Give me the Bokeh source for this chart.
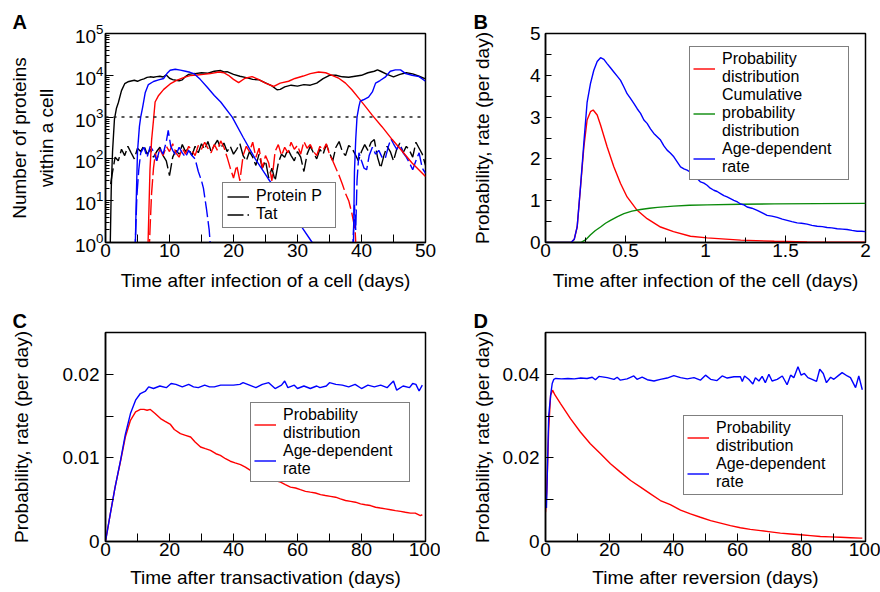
from bokeh.plotting import figure
from bokeh.models import (Range1d, FixedTicker, CustomJSTickFormatter, Span,
                          Legend, LegendItem, Title)
from bokeh.layouts import column, row
from bokeh.embed import file_html
from bokeh.resources import INLINE

FONT = "Liberation Sans"
RED = "#ff0000"
BLUE = "#0000ff"
GREEN = "#0a8a0a"
BLACK = "#000000"
DASH = "16 4"

# ---------------- Panel A data ----------------
a_xticks = [0, 10, 20, 30, 40, 50]
a_xminor = [5, 15, 25, 35, 45]
a_yticks = [1, 10, 100, 1000, 10000, 100000]
a_yminor = [m * d for d in (1, 10, 100, 1000, 10000) for m in range(2, 10)]
a_threshold = 1000

# Protein P, black cell
bp_t = [0.75, 0.9, 1.1, 1.4, 1.7, 2.0, 2.5, 3.0, 3.5, 4.0, 4.5, 5.0, 5.5, 6.0, 6.5,
        7.0, 7.5, 8.0, 8.5, 9.0, 9.5, 10.0, 10.5, 11.0, 11.5, 12.0, 12.5, 13.0, 13.5, 14.0,
        15, 16, 17, 18, 18.5, 19, 20, 21, 22, 23, 24, 25, 26, 26.8, 27.3,
        28, 29, 30, 31, 32, 33, 34, 35, 36, 37, 38, 39, 40, 41, 42,
        42.5, 43, 44, 45, 46, 47, 48, 49, 50]
bp_v = [1, 20, 150, 900, 1600, 2200, 4300, 6300, 7000, 7300, 7600, 7200, 7800, 8200, 8900,
        9200, 9000, 9300, 9500, 9100, 10200, 8500, 7900, 7600, 7400, 7800, 9300, 10500, 10800, 11000,
        11500, 11200, 12500, 13000, 12000, 12200, 10500, 9500, 8800, 8000, 7800, 6600, 5600, 4500, 4600,
        5300, 5800, 5500, 6000, 5800, 6500, 8300, 10000, 10000, 9200, 9000, 9500, 10000, 11500, 12500,
        13500, 12500, 10500, 9200, 10500, 11500, 10800, 9500, 8200]

# Protein P, red cell
rp_t = [6.6, 6.95, 7.2, 7.5, 7.75, 8.3, 9.1, 10.1, 11.1, 12.2, 13.2, 14.3, 15.3, 16.4, 17.7,
        18.5, 19.2, 20.0, 20.8, 21.8, 22.9, 23.9, 25.0, 26.3, 27.3, 28.6, 29.6, 30.9, 32.0, 33.3,
        34.4, 35.4, 36.5, 37.5, 38.5, 39.6, 40.6, 41.7, 43.2, 44.8, 46.4, 47.9, 50.0]
rp_v = [0.5, 55, 280, 850, 2300, 3300, 4600, 6200, 7600, 8800, 9800, 10200, 10500, 11000, 12000,
        11500, 10000, 8000, 6700, 8500, 9300, 8000, 6500, 5400, 6500, 7200, 8400, 9600, 11000, 12000,
        11500, 10000, 8400, 6500, 4500, 2800, 1800, 1100, 590, 290, 150, 80, 38]

# Protein P, blue cell (first and second episode)
bp1_t = [4.6, 4.8, 5.0, 5.3, 5.5, 5.8, 6.2, 6.7, 7.5, 8.3, 9.1, 9.6, 10.1, 10.9, 11.7,
         12.5, 13.2, 13.8, 14.8, 15.9, 17.0, 18.0, 19.8, 21.5, 23.4, 25.4, 27.3, 29.0, 30.7, 32.3, 32.6]
bp1_v = [0.3, 10, 150, 600, 1000, 1700, 3800, 6000, 7100, 7800, 8400, 11000, 13200, 14000, 13300,
         12500, 11800, 11000, 8000, 5200, 3300, 2300, 1000, 330, 100, 34, 13, 5.5, 2.3, 1, 0.3]
bp2_t = [38.7, 38.9, 39.1, 39.3, 39.6, 39.8, 40.3, 41.1, 41.7, 42.2, 42.9, 43.7, 44.5, 45.3,
         46.1, 46.9, 47.9, 49.0, 50.0]
bp2_v = [0.3, 50, 300, 1000, 1800, 2400, 2600, 3000, 4000, 6500, 7500, 9000, 12500, 13500,
         13500, 11000, 10000, 9300, 7200]

# Tat, black cell
kt_t = [0.8] + [1.0 + 0.5 * i for i in range(99)]
kt_v = [25,
        40, 110, 90, 170, 120, 200, 140, 100, 180, 150,
        210, 130, 170, 110, 150, 190, 120, 90, 40, 110,
        160, 130, 220, 150, 180, 120, 200, 140, 230, 170,
        260, 150, 210, 280, 180, 240, 150, 200, 130, 170,
        230, 120, 90, 150, 110, 70, 130, 60, 90, 35,
        60, 30, 80, 130, 110, 170, 120, 90, 150, 110,
        50, 130, 200, 140, 100, 170, 130, 220, 140, 90,
        190, 260, 150, 120, 210, 180, 130, 90, 150, 220,
        160, 250, 290, 110, 60, 120, 200, 150, 90, 170,
        240, 140, 200, 160, 110, 250, 180, 130, 70]

# Tat, red cell
rt_t = [6.8, 7.0, 7.2, 7.5, 7.8] + [8.0 + 0.5 * i for i in range(63)] + [39.2]
rt_v = [0.5, 3, 15, 60, 140,
        90, 170, 120, 200, 150, 230, 140, 110, 180, 130,
        200, 160, 120, 210, 170, 250, 180, 140, 220, 160,
        270, 190, 110, 60, 35, 70, 30, 120, 200, 150,
        250, 110, 180, 60, 120, 80, 30, 150, 220, 120,
        190, 140, 250, 170, 210, 130, 260, 180, 220, 150,
        120, 200, 160, 230, 130, 90, 60, 40, 25, 15,
        10, 5, 2,
        0.5]

# Tat, blue cell
bt1_t = [4.6, 4.9, 5.2, 5.5, 6.0, 6.5, 7.0, 7.5, 8.0, 8.5, 9.0, 9.5, 9.8, 10.2, 10.5,
         11.0, 11.5, 12.0, 12.5, 13.0, 13.5, 14.0, 14.5, 15.0, 15.3, 15.8, 16.2, 16.5]
bt1_v = [0.5, 13, 55, 140, 190, 110, 200, 150, 90, 180, 130, 260, 480, 200, 160,
         120, 190, 140, 110, 160, 120, 100, 50, 30, 20, 6, 2, 0.5]
bt2_t = [38.6, 38.9, 39.1, 39.3, 39.6, 40.0, 40.4, 40.8, 41.2, 41.7, 42.2, 42.7, 43.2, 43.7,
         44.2, 44.6, 45.0, 45.5, 46.0, 46.5, 47.0, 47.5, 48.0, 48.5, 49.0, 49.5, 50.0]
bt2_v = [0.5, 8, 2, 30, 140, 90, 60, 55, 120, 190, 130, 160, 110, 100,
         200, 300, 230, 170, 220, 140, 110, 80, 55, 90, 140, 60, 45]

# ---------------- Panel B data ----------------
b_xticks = [0, 0.5, 1, 1.5, 2]
b_xminor = [0.25, 0.75, 1.25, 1.75]
b_yticks = [0, 1, 2, 3, 4, 5]
b_yminor = [0.5, 1.5, 2.5, 3.5, 4.5]

b_red_t = [0, 0.16, 0.18, 0.198, 0.219, 0.24, 0.26, 0.281, 0.298, 0.323, 0.344, 0.385, 0.427,
           0.469, 0.51, 0.573, 0.635, 0.719, 0.8, 0.906, 1.01, 1.22, 1.43, 1.635, 2.0]
b_red_v = [0, 0, 0.08, 0.37, 1.33, 2.29, 2.93, 3.13, 3.17, 3.05, 2.81, 2.29, 1.81,
           1.41, 1.09, 0.77, 0.57, 0.37, 0.26, 0.15, 0.11, 0.056, 0.03, 0.016, 0.01]

b_green_t = [0, 0.22, 0.25, 0.28, 0.31, 0.344, 0.375, 0.406, 0.45, 0.49, 0.54, 0.594, 0.65,
             0.7, 0.8, 0.9, 1.01, 1.22, 1.43, 1.7, 2.0]
b_green_v = [0, 0, 0.06, 0.18, 0.28, 0.37, 0.46, 0.53, 0.62, 0.69, 0.75, 0.79, 0.82,
             0.84, 0.87, 0.89, 0.9, 0.915, 0.925, 0.93, 0.935]

b_blue_t = [0, 0.16, 0.18, 0.198, 0.219, 0.24, 0.26, 0.281, 0.302, 0.323,
            0.344, 0.365, 0.385, 0.406, 0.427, 0.448, 0.469, 0.49, 0.51, 0.531,
            0.552, 0.573, 0.594, 0.615, 0.635, 0.656, 0.677, 0.698, 0.719, 0.74,
            0.76, 0.78, 0.802, 0.823, 0.844, 0.865, 0.885, 0.906, 0.927, 0.948,
            0.969, 0.99, 1.01, 1.03, 1.052, 1.073, 1.094, 1.115, 1.135, 1.156,
            1.177, 1.2, 1.219, 1.24, 1.26, 1.29, 1.323, 1.355, 1.385, 1.415,
            1.448, 1.48, 1.51, 1.54, 1.573, 1.6, 1.635, 1.665, 1.698, 1.73,
            1.76, 1.79, 1.823, 1.855, 1.885, 1.915, 1.948, 1.975, 2.0]
b_blue_v = [0, 0, 0.08, 0.38, 1.35, 2.4, 3.35, 3.8, 4.12, 4.33,
            4.42, 4.38, 4.28, 4.18, 4.08, 3.98, 3.88, 3.72, 3.56, 3.45,
            3.33, 3.2, 3.09, 2.93, 2.85, 2.72, 2.61, 2.53, 2.45, 2.31,
            2.21, 2.14, 2.05, 1.93, 1.81, 1.76, 1.73, 1.68, 1.61, 1.53,
            1.45, 1.42, 1.37, 1.3, 1.25, 1.22, 1.17, 1.12, 1.09, 1.05,
            1.01, 0.97, 0.92, 0.9, 0.85, 0.82, 0.77, 0.71, 0.65, 0.63,
            0.6, 0.56, 0.53, 0.5, 0.47, 0.46, 0.44, 0.41, 0.39, 0.38,
            0.36, 0.35, 0.33, 0.32, 0.31, 0.29, 0.27, 0.27, 0.26]

# ---------------- Panel C data ----------------
c_xticks = [0, 20, 40, 60, 80, 100]
c_xminor = [10, 30, 50, 70, 90]
c_yticks = [0, 0.01, 0.02]
c_yminor = [0.005, 0.015]

c_red_t = [0, 1.5, 3, 4.7, 6.2, 7.8, 9.4, 10.9, 12, 13,
           14, 15.5, 17.2, 18.5, 20.3, 21.5, 23.4, 25, 26.6, 28,
           29.7, 31.2, 32.8, 34.5, 35.9, 37.5, 39, 40.5, 42.2, 43.7,
           45.3, 46.8, 48.4, 50, 51.6, 53, 54.7, 56.2, 57.8, 59.4,
           60.9, 62.5, 64, 65.6, 67.2, 68.7, 70.3, 71.9, 73.4, 75,
           76.6, 78.1, 79.7, 81.2, 82.8, 84.4, 85.9, 87.5, 89.1, 90.6,
           92.2, 93.7, 95.3, 96.8, 98.4, 99]
c_red_v = [0, 0.0033, 0.0065, 0.0096, 0.0125, 0.0145, 0.0155, 0.0158, 0.0158, 0.0157,
           0.0158, 0.0153, 0.0147, 0.0144, 0.014, 0.0134, 0.0129, 0.0127, 0.0125, 0.0119,
           0.0113, 0.0111, 0.0109, 0.0105, 0.0103, 0.0099, 0.0096, 0.0094, 0.0092, 0.0089,
           0.0085, 0.0082, 0.008, 0.0078, 0.0075, 0.0073, 0.0071, 0.0068, 0.0065, 0.0064,
           0.0062, 0.006, 0.0059, 0.0058, 0.0056, 0.0055, 0.0054, 0.0053, 0.0051, 0.0049,
           0.0048, 0.0047, 0.0045, 0.0044, 0.0043, 0.0041, 0.004, 0.0039, 0.0038, 0.0037,
           0.0036, 0.0035, 0.0034, 0.0034, 0.0031, 0.0032]

c_blue_t = [0, 1.5, 3, 4.7, 6.2, 7.8, 9.4, 10.9, 12.5, 13.5,
            15, 17, 19, 20.5, 22, 24, 26, 27.5, 29, 31,
            32.5, 34, 36, 38, 40, 42, 43, 45, 47, 49,
            51, 53, 55, 56, 57, 59, 60, 62, 64, 66,
            67, 69, 70, 72, 74, 76, 78, 80, 82, 84,
            86, 88, 89, 90, 91, 93, 95, 96, 97, 98, 99]
c_blue_v = [0, 0.0033, 0.0065, 0.0097, 0.0128, 0.0153, 0.0169, 0.0177, 0.018, 0.0185,
            0.0183, 0.0186, 0.0184, 0.0189, 0.0188, 0.0185, 0.0188, 0.0185, 0.0184, 0.0187,
            0.0185, 0.0185, 0.0187, 0.0187, 0.0187, 0.0188, 0.019, 0.0187, 0.0184, 0.0188,
            0.019, 0.0183, 0.0187, 0.0192, 0.0184, 0.0187, 0.0183, 0.0186, 0.0183, 0.0186,
            0.0184, 0.0186, 0.019, 0.0188, 0.0187, 0.0185, 0.0188, 0.0183, 0.0187, 0.0185,
            0.0187, 0.0184, 0.0188, 0.0192, 0.0181, 0.0186, 0.0184, 0.0189, 0.0188, 0.018, 0.0187]

# ---------------- Panel D data ----------------
d_xticks = [0, 20, 40, 60, 80, 100]
d_xminor = [10, 30, 50, 70, 90]
d_yticks = [0, 0.02, 0.04]
d_yminor = [0.01, 0.03]

d_red_t = [0, 0.4, 1, 1.6, 2.2, 3, 4.7, 7.8, 10.9, 14,
           17.2, 20.3, 23.4, 26.6, 29.7, 32.8, 35.9, 39, 42.2, 45.3,
           48.4, 51.6, 54.7, 57.8, 60.9, 64, 67.2, 70.3, 73.4, 76.6,
           79.7, 82.8, 85.9, 89, 92.2, 95.3, 98.4, 99]
d_red_v = [0.007, 0.012, 0.027, 0.035, 0.0362, 0.035, 0.033, 0.0294, 0.0262, 0.0234,
           0.021, 0.0186, 0.0166, 0.0146, 0.013, 0.0114, 0.0098, 0.0088, 0.0075, 0.0066,
           0.0058, 0.005, 0.0044, 0.0038, 0.0033, 0.0029, 0.0026, 0.0023, 0.002, 0.0018,
           0.0016, 0.0014, 0.0012, 0.0011, 0.001, 0.0009, 0.0008, 0.0008]

d_blue_t = [0.3, 1.0, 1.6, 2.1, 2.6, 3.2, 5, 7, 9, 11,
            13, 14.6, 15.6, 16.7, 19.3, 21.4, 22.4, 23.4, 25.5, 27.6,
            28.6, 30.2, 31.8, 33.9, 35.9, 38, 40.1, 42.2, 44.3, 46.4,
            48.4, 50, 51.6, 53.6, 55.2, 56.8, 58.9, 60.9, 61.5, 62.2,
            63.5, 64.8, 65.6, 66.7, 67.7, 68.7, 69.8, 70.8, 72.4, 74,
            75.5, 76.6, 77.6, 78.9, 79.9, 80.9, 82, 83.3, 84.7, 85.7,
            86.8, 87.8, 89.1, 90.1, 91.7, 92.7, 94.3, 95.3, 96.9, 97.9, 99]
d_blue_v = [0.008, 0.03, 0.035, 0.0378, 0.0388, 0.039, 0.0389, 0.039, 0.0389, 0.0391,
            0.039, 0.0393, 0.0387, 0.0395, 0.0392, 0.0388, 0.0393, 0.0386, 0.0389, 0.0396,
            0.0388, 0.0393, 0.0387, 0.0384, 0.0388, 0.0391, 0.0397, 0.0392, 0.0389, 0.0392,
            0.0386, 0.0398, 0.0388, 0.0385, 0.0396, 0.0391, 0.0394, 0.0394, 0.0383, 0.0396,
            0.0388, 0.0377, 0.0392, 0.0384, 0.0395, 0.038, 0.04, 0.0384, 0.0388, 0.0396,
            0.0375, 0.0398, 0.0392, 0.0418, 0.0398, 0.0402, 0.0392, 0.0388, 0.0383, 0.0412,
            0.0402, 0.038, 0.0393, 0.0388, 0.0398, 0.0404, 0.0396, 0.0392, 0.0368, 0.0396, 0.0363]


def make_fig(top, bottom, xr, yr, letter, letter_offset, log=False):
    kw = dict(width=440, height=296, x_range=Range1d(*xr), y_range=Range1d(*yr),
              output_backend="svg", toolbar_location=None,
              min_border_left=105, min_border_right=15,
              min_border_top=top, min_border_bottom=bottom)
    if log:
        kw["y_axis_type"] = "log"
    p = figure(**kw)
    p.title = Title(text=letter, align="left", offset=letter_offset, standoff=1,
                    text_font=FONT, text_font_style="bold", text_font_size="20px",
                    text_color=BLACK, vertical_align="bottom")
    p.xgrid.visible = False
    p.ygrid.visible = False
    p.outline_line_color = BLACK
    p.outline_line_width = 1.5
    p.outline_line_alpha = 1
    p.background_fill_color = "white"
    p.border_fill_color = "white"
    return p


def style_axis(ax, ticks, minor, label, tick_len, minor_len, lab_std, axlab_std, fmt=True):
    ax.ticker = FixedTicker(ticks=ticks, minor_ticks=minor)
    if fmt:
        ax.formatter = CustomJSTickFormatter(code="return tick.toString();")
    ax.axis_label = label
    ax.axis_line_color = BLACK
    ax.axis_line_width = 1.5
    ax.major_tick_line_color = BLACK
    ax.minor_tick_line_color = BLACK
    ax.major_tick_line_width = 1
    ax.minor_tick_line_width = 1
    ax.major_tick_in = tick_len
    ax.major_tick_out = 0
    ax.minor_tick_in = minor_len
    ax.minor_tick_out = 0
    ax.major_label_text_font = FONT
    ax.major_label_text_font_size = "19px"
    ax.major_label_text_color = BLACK
    ax.major_label_standoff = lab_std
    ax.axis_label_text_font = FONT
    ax.axis_label_text_font_size = "19px"
    ax.axis_label_text_font_style = "normal"
    ax.axis_label_text_color = BLACK
    ax.axis_label_text_line_height = 1.3
    ax.axis_label_standoff = axlab_std


def make_legend(p, items, loc, label_width, padding=3):
    leg = Legend(items=items, location=loc)
    leg.border_line_color = BLACK
    leg.border_line_width = 1
    leg.background_fill_color = "white"
    leg.background_fill_alpha = 1
    leg.label_text_font = FONT
    leg.label_text_font_size = "16px"
    leg.label_text_color = BLACK
    leg.label_text_line_height = 0.95
    leg.glyph_width = 22
    leg.glyph_height = 17
    leg.label_height = 17
    leg.label_width = label_width
    leg.label_standoff = 7
    leg.padding = padding
    leg.spacing = 0
    leg.margin = 0
    p.add_layout(leg)


LW = 1.4

# ---------------- Panel A ----------------
pa = make_fig(33, 54, (0, 50), (1, 100000), "A", -93, log=True)
style_axis(pa.xaxis[0], a_xticks, a_xminor, "Time after infection of a cell (days)", 8, 8, 1, 10)
style_axis(pa.yaxis[0], a_yticks, a_yminor, "Number of proteins\nwithin a cell", 8, 4, 2, 15, fmt=False)
pa.add_layout(Span(location=a_threshold, dimension="width", line_color="#222222",
                   line_dash="3 5", line_width=1.5))
r_kt = pa.line(kt_t, kt_v, line_color=BLACK, line_width=LW, line_dash=DASH)
pa.line(rt_t, rt_v, line_color=RED, line_width=LW, line_dash=DASH)
pa.line(bt1_t, bt1_v, line_color=BLUE, line_width=LW, line_dash=DASH)
pa.line(bt2_t, bt2_v, line_color=BLUE, line_width=LW, line_dash=DASH)
r_kp = pa.line(bp_t, bp_v, line_color=BLACK, line_width=LW)
pa.line(rp_t, rp_v, line_color=RED, line_width=LW)
pa.line(bp1_t, bp1_v, line_color=BLUE, line_width=LW)
pa.line(bp2_t, bp2_v, line_color=BLUE, line_width=LW)
make_legend(pa, [LegendItem(label="Protein P", renderers=[r_kp]),
                 LegendItem(label="Tat", renderers=[r_kt])], (117, 14), 75, padding=4)

# ---------------- Panel B ----------------
pb = make_fig(33, 54, (0, 2), (0, 5), "B", -72)
style_axis(pb.xaxis[0], b_xticks, b_xminor, "Time after infection of the cell (days)", 7, 5, 1, 10)
style_axis(pb.yaxis[0], b_yticks, b_yminor, "Probability, rate (per day)", 6, 6, 5, 34)
rb1 = pb.line(b_red_t, b_red_v, line_color=RED, line_width=LW)
rb2 = pb.line(b_green_t, b_green_v, line_color=GREEN, line_width=LW)
rb3 = pb.line(b_blue_t, b_blue_v, line_color=BLUE, line_width=LW)
make_legend(pb, [LegendItem(label="Probability\ndistribution", renderers=[rb1]),
                 LegendItem(label="Cumulative\nprobability\ndistribution", renderers=[rb2]),
                 LegendItem(label="Age-dependent\nrate", renderers=[rb3])], (144, 62), 123)

# ---------------- Panel C ----------------
pc = make_fig(36, 51, (0, 100), (0, 0.025), "C", -93)
style_axis(pc.xaxis[0], c_xticks, c_xminor, "Time after transactivation (days)", 8, 8, 1, 8)
style_axis(pc.yaxis[0], c_yticks, c_yminor, "Probability, rate (per day)", 8, 8, 6, 28)
rc1 = pc.line(c_red_t, c_red_v, line_color=RED, line_width=LW)
rc2 = pc.line(c_blue_t, c_blue_v, line_color=BLUE, line_width=LW)
make_legend(pc, [LegendItem(label="Probability\ndistribution", renderers=[rc1]),
                 LegendItem(label="Age-dependent\nrate", renderers=[rc2])], (145, 59), 123)

# ---------------- Panel D ----------------
pd_ = make_fig(36, 51, (0, 100), (0, 0.05), "D", -72)
style_axis(pd_.xaxis[0], d_xticks, d_xminor, "Time after reversion (days)", 8, 8, 1, 8)
style_axis(pd_.yaxis[0], d_yticks, d_yminor, "Probability, rate (per day)", 8, 8, 6, 7)
rd1 = pd_.line(d_red_t, d_red_v, line_color=RED, line_width=LW)
rd2 = pd_.line(d_blue_t, d_blue_v, line_color=BLUE, line_width=LW)
make_legend(pd_, [LegendItem(label="Probability\ndistribution", renderers=[rd1]),
                  LegendItem(label="Age-dependent\nrate", renderers=[rd2])], (138, 46), 123)

layout = column(row(pa, pb), row(pc, pd_))
open("out.html", "w").write(file_html(layout, INLINE, title="Figure"))
